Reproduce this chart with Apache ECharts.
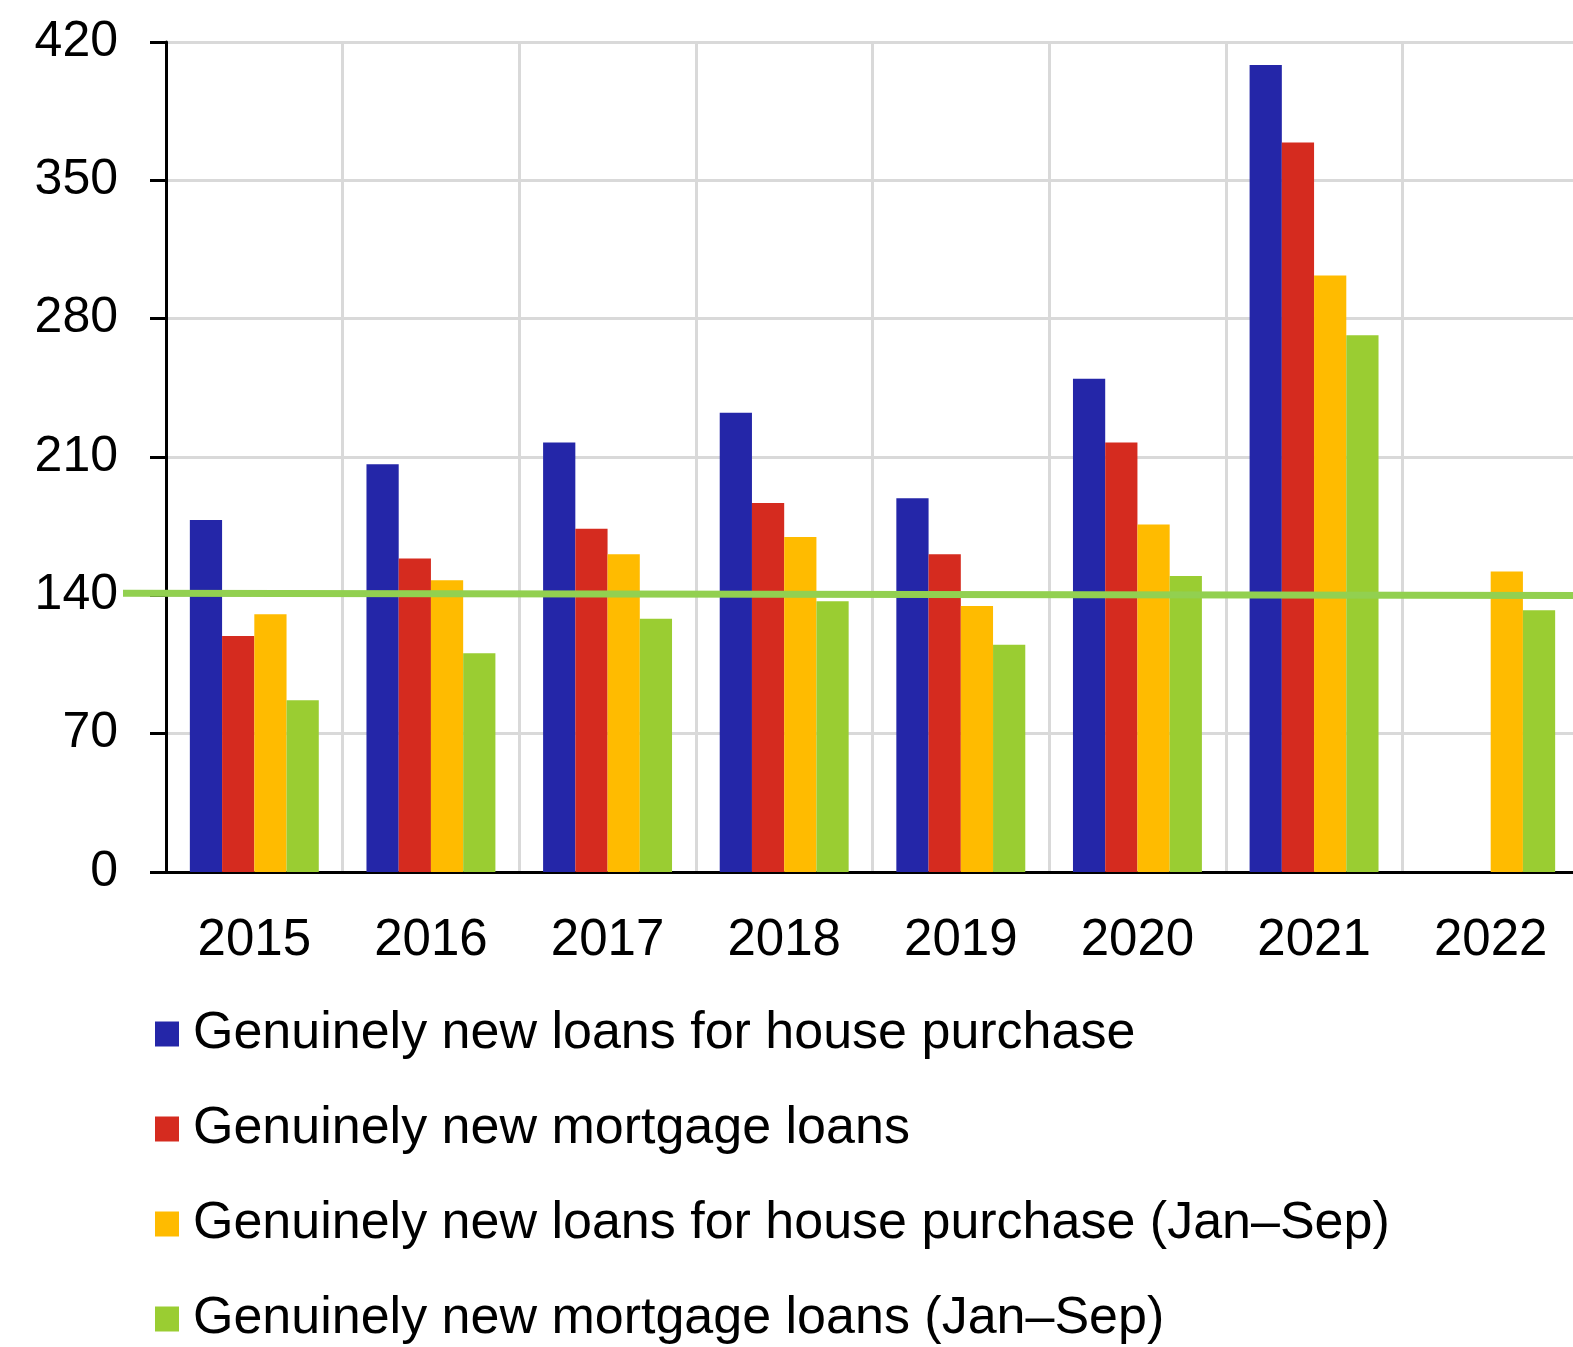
<!DOCTYPE html>
<html>
<head>
<meta charset="utf-8">
<title>Genuinely new loans</title>
<script src="https://cdn.jsdelivr.net/npm/echarts@6/dist/echarts.min.js"></script>
<style>
  html, body { margin: 0; padding: 0; background: #ffffff; }
  #chart { width: 1573px; height: 1347px; }
</style>
</head>
<body>
<div id="chart"></div>
<script>
// Years on the category axis
const years = ['2015', '2016', '2017', '2018', '2019', '2020', '2021', '2022'];

// Series values (EUR billions)
const housePurchase = [178.1, 206.3, 217.3, 232.4, 189.1, 249.6, 408.4, null];
const mortgage = [119.4, 158.7, 173.7, 186.7, 160.8, 217.3, 369.1, null];
const housePurchaseJanSep = [130.4, 147.6, 160.8, 169.5, 134.6, 175.9, 301.8, 152.0];
const mortgageJanSep = [86.9, 110.7, 128.2, 137.0, 115.0, 149.8, 271.6, 132.4];

// Reference level drawn across the whole plot (start, end)
const referenceLevel = [141.1, 139.9];

// Value axis ticks
const yMin = 0;
const yMax = 420;
const yStep = 70;

const seriesNames = [
  'Genuinely new loans for house purchase',
  'Genuinely new mortgage loans',
  'Genuinely new loans for house purchase (Jan\u2013Sep)',
  'Genuinely new mortgage loans (Jan\u2013Sep)'
];
const seriesColors = ['#2426a8', '#d52b1f', '#ffbb00', '#9acd32'];
const seriesValues = [housePurchase, mortgage, housePurchaseJanSep, mortgageJanSep];

const FONT = '"Liberation Sans", Arial, sans-serif';

const chart = echarts.init(document.getElementById('chart'), null, { renderer: 'canvas' });

const barSeries = seriesNames.map((name, i) => ({
  name: name,
  type: 'bar',
  xAxisIndex: 0,
  yAxisIndex: 0,
  data: seriesValues[i],
  barGap: '0%',
  barCategoryGap: '27%',
  itemStyle: { color: seriesColors[i] },
  emphasis: { disabled: true },
  z: 2
}));

const option = {
  animation: false,
  backgroundColor: '#ffffff',
  textStyle: { fontFamily: FONT, color: '#000000' },
  grid: [
    { left: 166, top: 42, right: -6, bottom: 475, containLabel: false, outerBoundsMode: 'none' },
    { left: 123, top: 42, right: -10, bottom: 475, containLabel: false, outerBoundsMode: 'none' }
  ],
  legend: {
    data: seriesNames,
    orient: 'vertical',
    left: 155,
    top: 1008,
    height: 420,
    padding: 0,
    itemWidth: 24,
    itemHeight: 25,
    itemGap: 43,
    icon: 'rect',
    selectedMode: false,
    textStyle: {
      fontFamily: FONT,
      fontSize: 52,
      lineHeight: 52,
      color: '#000000',
      padding: [0, 0, 0, 9]
    }
  },
  xAxis: [
    {
      type: 'category',
      gridIndex: 0,
      data: years,
      boundaryGap: true,
      axisLine: { show: true, lineStyle: { color: '#000000', width: 3 } },
      axisTick: { show: false },
      splitLine: { show: true, lineStyle: { color: '#d9d9d9', width: 3 } },
      axisLabel: {
        fontFamily: FONT,
        fontSize: 51,
        color: '#000000',
        margin: 43
      }
    },
    {
      type: 'value',
      gridIndex: 1,
      min: 0,
      max: 1,
      show: false
    }
  ],
  yAxis: [
    {
      type: 'value',
      gridIndex: 0,
      min: yMin,
      max: yMax,
      interval: yStep,
      axisLine: { show: true, lineStyle: { color: '#000000', width: 3 } },
      axisTick: { show: true, inside: false, length: 16, lineStyle: { color: '#000000', width: 3 } },
      splitLine: { show: true, lineStyle: { color: '#d9d9d9', width: 3 } },
      axisLabel: {
        fontFamily: FONT,
        fontSize: 50,
        color: '#000000',
        margin: 48
      }
    },
    {
      type: 'value',
      gridIndex: 1,
      min: yMin,
      max: yMax,
      show: false
    }
  ],
  series: barSeries.concat([
    {
      name: 'Reference level',
      type: 'line',
      xAxisIndex: 1,
      yAxisIndex: 1,
      data: [[0, referenceLevel[0]], [1, referenceLevel[1]]],
      symbol: 'none',
      lineStyle: { color: '#92d050', width: 7, cap: 'butt' },
      emphasis: { disabled: true },
      silent: true,
      z: 5
    }
  ])
};

chart.setOption(option);
</script>
</body>
</html>
